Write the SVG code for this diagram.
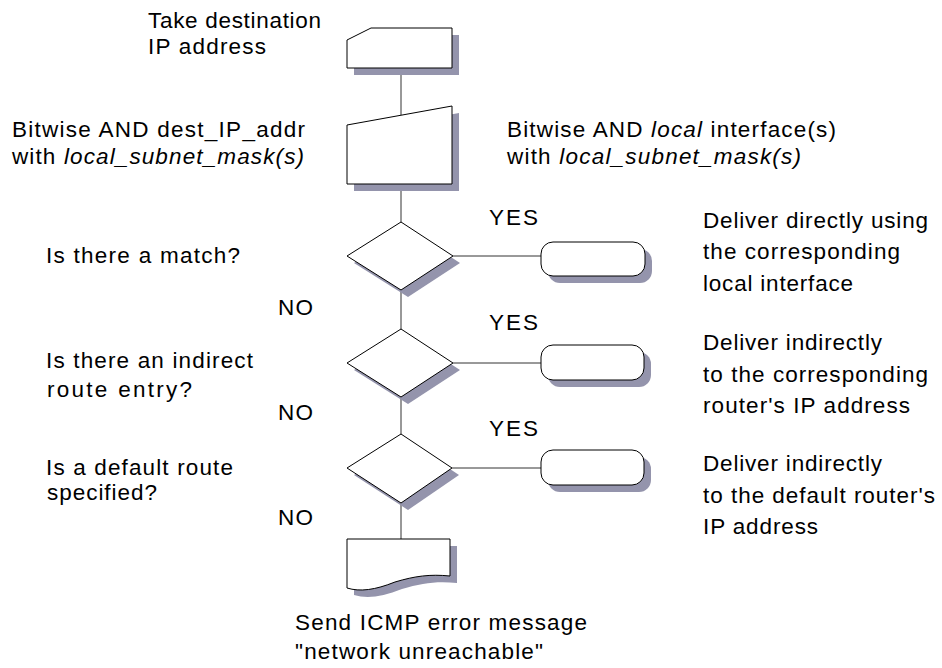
<svg xmlns="http://www.w3.org/2000/svg" width="942" height="668" viewBox="0 0 942 668">
<style>
  text { font-family: "Liberation Sans", Arial, sans-serif; font-size: 22.5px; fill: #000; }
  .it { font-style: italic; }
  .shape { fill: #fff; stroke: #000; stroke-width: 1; }
  .shadow { fill: #9494ac; stroke: none; }
  .conn { stroke: #333; stroke-width: 1; fill: none; }
</style>
<rect x="0" y="0" width="942" height="668" fill="#fff"/>

<g id="connectors">
  <line class="conn" x1="401" y1="68" x2="401" y2="115"/>
  <line class="conn" x1="401" y1="184" x2="401" y2="222"/>
  <line class="conn" x1="401" y1="290" x2="401" y2="329"/>
  <line class="conn" x1="401" y1="397" x2="401" y2="434"/>
  <line class="conn" x1="401" y1="503" x2="401" y2="539"/>
  <line class="conn" x1="453" y1="256" x2="541" y2="256"/>
  <line class="conn" x1="453" y1="363" x2="541" y2="363"/>
  <line class="conn" x1="452" y1="468" x2="541" y2="468"/>
  <text x="489" y="225" textLength="49" lengthAdjust="spacing">YES</text>
  <text x="489" y="330" textLength="49" lengthAdjust="spacing">YES</text>
  <text x="489" y="436" textLength="49" lengthAdjust="spacing">YES</text>
  <text x="278" y="315" textLength="35" lengthAdjust="spacing">NO</text>
  <text x="278" y="420" textLength="35" lengthAdjust="spacing">NO</text>
  <text x="278" y="525" textLength="35" lengthAdjust="spacing">NO</text>
</g>

<g id="take-destination">
  <polygon class="shadow" points="354,47 378,35 459,35 459,75 354,75"/>
  <polygon class="shape" points="347,40 371,28 452,28 452,68 347,68"/>
  <text x="148" y="28" textLength="173" lengthAdjust="spacing">Take destination</text>
  <text x="148" y="54" textLength="118" lengthAdjust="spacing">IP address</text>
</g>

<g id="bitwise-and">
  <polygon class="shadow" points="354,132 459,113 459,191 354,191"/>
  <polygon class="shape" points="347,125 452,106 452,184 347,184"/>
  <text x="12" y="137" textLength="293" lengthAdjust="spacing">Bitwise AND dest_IP_addr</text>
  <text x="12" y="164" textLength="292" lengthAdjust="spacing">with <tspan class="it">local_subnet_mask(s)</tspan></text>
  <text x="507" y="137" textLength="329" lengthAdjust="spacing">Bitwise AND <tspan class="it">local</tspan> interface(s)</text>
  <text x="507" y="164" textLength="294" lengthAdjust="spacing">with <tspan class="it">local_subnet_mask(s)</tspan></text>
</g>

<g id="match-decision">
  <polygon class="shadow" points="408,229 460,263 408,297 354,263"/>
  <polygon class="shape" points="401,222 453,256 401,290 347,256"/>
  <text x="46" y="263" textLength="194" lengthAdjust="spacing">Is there a match?</text>
</g>

<g id="deliver-direct">
  <rect class="shadow" x="548" y="249" width="104" height="34" rx="12" ry="12"/>
  <rect class="shape" x="541" y="242" width="104" height="34" rx="12" ry="12"/>
  <text x="703" y="228" textLength="225" lengthAdjust="spacing">Deliver directly using</text>
  <text x="703" y="259" textLength="197" lengthAdjust="spacing">the corresponding</text>
  <text x="703" y="291" textLength="150" lengthAdjust="spacing">local interface</text>
</g>

<g id="indirect-decision">
  <polygon class="shadow" points="408,336 460,370 408,404 354,370"/>
  <polygon class="shape" points="401,329 453,363 401,397 347,363"/>
  <text x="46" y="368" textLength="207" lengthAdjust="spacing">Is there an indirect</text>
  <text x="47" y="397" textLength="145" lengthAdjust="spacing">route entry?</text>
</g>

<g id="deliver-indirect-router">
  <rect class="shadow" x="548" y="352" width="103" height="35" rx="12" ry="12"/>
  <rect class="shape" x="541" y="345" width="103" height="35" rx="12" ry="12"/>
  <text x="703" y="350" textLength="179" lengthAdjust="spacing">Deliver indirectly</text>
  <text x="703" y="382" textLength="225" lengthAdjust="spacing">to the corresponding</text>
  <text x="703" y="413" textLength="207" lengthAdjust="spacing">router's IP address</text>
</g>

<g id="default-decision">
  <polygon class="shadow" points="408,441 459,475 408,510 354,475"/>
  <polygon class="shape" points="401,434 452,468 401,503 347,468"/>
  <text x="46" y="475" textLength="187" lengthAdjust="spacing">Is a default route</text>
  <text x="47" y="500" textLength="110" lengthAdjust="spacing">specified?</text>
</g>

<g id="deliver-default-router">
  <rect class="shadow" x="548" y="457" width="103" height="35" rx="12" ry="12"/>
  <rect class="shape" x="541" y="450" width="103" height="35" rx="12" ry="12"/>
  <text x="703" y="471" textLength="179" lengthAdjust="spacing">Deliver indirectly</text>
  <text x="703" y="503" textLength="232" lengthAdjust="spacing">to the default router's</text>
  <text x="703" y="534" textLength="115" lengthAdjust="spacing">IP address</text>
</g>

<g id="icmp-error">
  <path class="shadow" d="M354,546 H457 V583 C437,581 422,583 402,589 C382,597 367,599 354,595 Z"/>
  <path class="shape" d="M347,539 H450 V576 C430,574 415,576 395,582 C375,590 360,592 347,588 Z"/>
  <text x="295" y="630" textLength="292" lengthAdjust="spacing">Send ICMP error message</text>
  <text x="295" y="659" textLength="248" lengthAdjust="spacing">"network unreachable"</text>
</g>
</svg>
